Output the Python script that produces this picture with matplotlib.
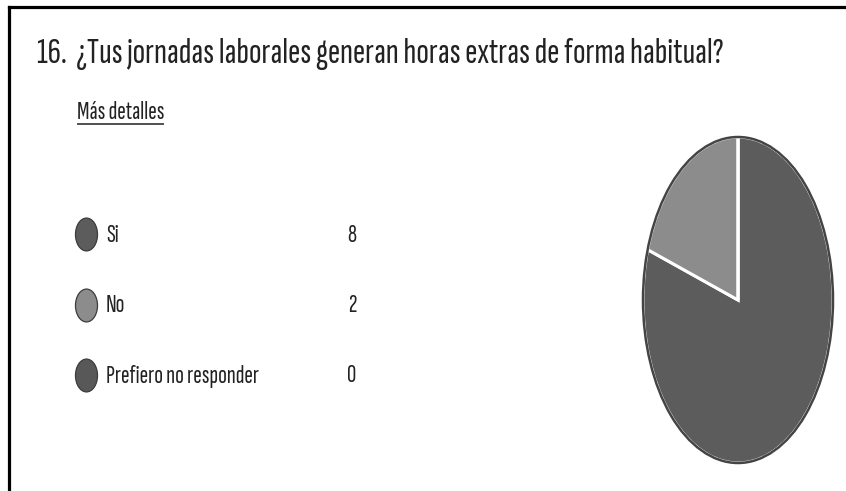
import matplotlib
matplotlib.use("Agg")
import matplotlib.pyplot as plt
from matplotlib.markers import MarkerStyle
from matplotlib.transforms import Affine2D
from matplotlib.patches import Circle

# ---- data ----
title = "16.  ¿Tus jornadas laborales generan horas extras de forma habitual?"
link_text = "Más detalles"
categories = ["Si", "No", "Prefiero no responder"]
counts = [8, 2, 0]
colors = ["#5c5c5c", "#8c8c8c", "#585858"]

FONT = ["Sofia Sans Extra Condensed", "DejaVu Sans"]
W, H = 846, 491

fig = plt.figure(figsize=(W / 100, H / 100), dpi=100)
fig.patch.set_facecolor("white")

# pixel-coordinate overlay axes
bg = fig.add_axes([0, 0, 1, 1])
bg.set_xlim(0, W)
bg.set_ylim(H, 0)
bg.axis("off")

# border (left + top only)
fr = fig.add_axes([9 / W, -0.1, 1.2, 1.1 - 7 / H])
fr.set_xticks([]); fr.set_yticks([])
fr.patch.set_alpha(0)
for s in ["right", "bottom"]:
    fr.spines[s].set_visible(False)
for s in ["left", "top"]:
    fr.spines[s].set_linewidth(2.3)
    fr.spines[s].set_color("black")

# title
bg.text(37, 63, title, fontsize=26.8, family=FONT, color="#222222", va="baseline", ha="left")

# "Más detalles" link with underline
lk = bg.text(77, 119, link_text, fontsize=18.5, family=FONT, color="#222222", va="baseline", ha="left")
fig.canvas.draw()
bb = lk.get_window_extent(fig.canvas.get_renderer())
inv = bg.transData.inverted()
(x0, _), (x1, _) = inv.transform([(bb.x0, bb.y0), (bb.x1, bb.y0)])
bg.plot([x0, x1], [123.5, 123.5], color="#222222", lw=1.1, solid_capstyle="butt")

# legend rows
row_y0, row_dy = 234, 70.5
mk = MarkerStyle("o", transform=Affine2D().scale(0.67, 1.0))
for i, (cat, val, col) in enumerate(zip(categories, counts, colors)):
    y = row_y0 + i * row_dy
    bg.scatter([86], [y], s=560, marker=mk, color=col, edgecolors="#3c3c3c", linewidths=0.9, zorder=3)
    bg.text(106, y + 7.5, cat, fontsize=18.5, family=FONT, color="#222222", va="baseline", ha="left")
    bg.text(352, y + 7.5, str(val), fontsize=18.5, family=FONT, color="#222222", va="baseline", ha="center")

# pie (elliptical, as in the reference)
cx, cy, rx, ry = 738, 300, 95, 163
pad = 1.06
pax = fig.add_axes([(cx - rx * pad) / W, 1 - (cy + ry * pad) / H, 2 * rx * pad / W, 2 * ry * pad / H])
pax.pie(counts, colors=colors, startangle=90, counterclock=False, radius=1,
        wedgeprops=dict(edgecolor="white", linewidth=2.2))
pax.add_patch(Circle((0, 0), 1, fill=False, edgecolor="#444444", linewidth=1.8))
pax.set_aspect("auto")
pax.set_xlim(-pad, pad)
pax.set_ylim(-pad, pad)
pax.axis("off")

fig.savefig("out.png", dpi=100, facecolor="white")
